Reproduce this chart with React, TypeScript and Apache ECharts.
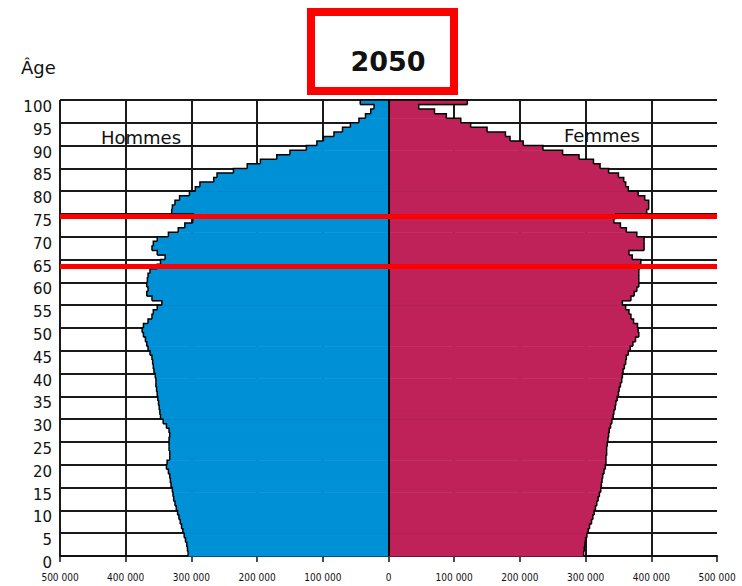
import React, { useEffect, useRef } from "react";
import * as echarts from "echarts";

// Age rows: row "a" spans [a-1, a] on the age axis; the top row (100) is 100+
const ages: number[] = Array.from({ length: 100 }, (_, i) => i + 1);

// Population in thousands, row 1 .. row 100
const hommesMilliers: number[] = [
  305, 306, 307, 309, 311, 313, 315, 317, 319, 321,
  323, 325, 327, 328, 329, 331, 332, 333, 335, 338,
  337, 333, 333, 334, 334, 334, 333, 334, 338, 343,
  347, 348, 349, 350, 351, 352, 353, 354, 354, 355,
  357, 358, 359, 360, 363, 366, 368, 370, 373, 375,
  373, 366, 360, 358, 352, 345, 360, 368, 366, 368,
  367, 366, 363, 352, 347, 340, 352, 360, 358, 352,
  335, 320, 310, 298, 297, 330, 329, 325, 318, 303,
  294, 287, 266, 261, 236, 215, 195, 170, 150, 125,
  109, 99, 83, 70, 58, 45, 35, 27, 22, 43,
];

const femmesMilliers: number[] = [
  297, 298, 299, 300, 302, 304, 306, 309, 311, 313,
  315, 317, 319, 321, 323, 324, 325, 326, 328, 330,
  331, 331, 332, 332, 333, 334, 335, 336, 338, 340,
  342, 343, 345, 346, 348, 350, 351, 353, 355, 356,
  357, 359, 361, 362, 365, 368, 372, 376, 381, 380,
  379, 373, 369, 366, 361, 356, 369, 374, 378, 381,
  381, 381, 381, 383, 384, 371, 366, 389, 389, 389,
  378, 362, 353, 343, 346, 393, 396, 396, 390, 380,
  365, 361, 358, 350, 335, 322, 312, 290, 265, 235,
  205, 185, 178, 150, 125, 110, 88, 70, 46, 120,
];

const xMin = -500000;
const xMax = 500000;
const xStep = 100000;
const ageStep = 5;
const redLineAges: number[] = [74.5, 63.5];
const title = "2050";
const labelHommes = "Hommes";
const labelFemmes = "Femmes";
const labelAge = "Âge";

const BLUE = "#0090D5";
const MAGENTA = "#BE2259";

function fmtPop(v: number): string {
  const a = Math.abs(v);
  if (a === 0) return "0";
  return `${Math.round(a / 1000)} 000`;
}

function makeRender(values: number[], color: string) {
  return (params: any, api: any) => {
    const i = params.dataIndex;
    const v = api.value(0);
    const age = api.value(1);
    const top = api.coord([0, age]);
    const bot = api.coord([v, age - 1]);
    const nextV = i + 1 < values.length ? values[i + 1] : 0;
    const nextPt = api.coord([nextV, age]);
    const x0 = Math.min(top[0], bot[0]);
    const w = Math.abs(bot[0] - top[0]);
    return {
      type: "group",
      children: [
        {
          type: "rect",
          z2: 1,
          shape: { x: x0, y: top[1], width: w, height: bot[1] - top[1] + 0.6 },
          style: { fill: color },
        },
        {
          type: "polyline",
          z2: 10,
          shape: {
            points: [
              [bot[0], bot[1]],
              [bot[0], top[1]],
              [nextPt[0], top[1]],
            ],
          },
          style: { stroke: "#000", lineWidth: 1.5, fill: "none" },
        },
      ],
    };
  };
}

export default function App() {
  const ref = useRef<HTMLDivElement>(null);

  useEffect(() => {
    document.body.style.margin = "0";
    if (!ref.current) return;
    const chart = echarts.init(ref.current, undefined, { renderer: "svg" });

    const hommesVals = hommesMilliers.map((v) => -v * 1000);
    const femmesVals = femmesMilliers.map((v) => v * 1000);

    const option: any = {
      animation: false,
      backgroundColor: "#ffffff",
      grid: { left: 60, right: 25, top: 100, bottom: 30, containLabel: false },
      xAxis: {
        type: "value",
        min: xMin,
        max: xMax,
        interval: xStep,
        axisLine: { show: true, lineStyle: { color: "#111", width: 2 } },
        axisTick: { show: true, length: 6, lineStyle: { color: "#111", width: 1.5 } },
        axisLabel: {
          formatter: fmtPop,
          fontSize: 10,
          color: "#111",
          margin: 16,
          fontFamily: "'Liberation Sans Narrow', 'DejaVu Sans Condensed', 'Liberation Sans', sans-serif",
        },
        splitLine: {
          show: true,
          showMaxLine: false,
          lineStyle: { color: "#1a1a1a", width: 2 },
        },
      },
      yAxis: {
        type: "value",
        min: 0,
        max: 100,
        interval: ageStep,
        axisLine: { show: true, lineStyle: { color: "#111", width: 2 } },
        axisTick: { show: false },
        axisLabel: {
          fontSize: 15,
          lineHeight: 14,
          color: "#111",
          margin: 8,
          verticalAlign: "top",
          fontFamily: "'DejaVu Sans', sans-serif",
        },
        splitLine: { show: true, lineStyle: { color: "#1a1a1a", width: 2 } },
      },
      series: [
        {
          name: labelHommes,
          type: "custom",
          renderItem: makeRender(hommesVals, BLUE),
          encode: { x: 0, y: 1 },
          data: ages.map((a, i) => [hommesVals[i], a]),
          z: 2,
        },
        {
          name: labelFemmes,
          type: "custom",
          renderItem: makeRender(femmesVals, MAGENTA),
          encode: { x: 0, y: 1 },
          data: ages.map((a, i) => [femmesVals[i], a]),
          z: 2,
          markLine: {
            silent: true,
            symbol: ["none", "none"],
            label: { show: false },
            lineStyle: { color: "#ff0000", width: 5, type: "solid" },
            data: [
              { xAxis: 0, lineStyle: { color: "#000", width: 2, type: "solid" } },
              ...redLineAges.map((a) => ({ yAxis: a })),
            ],
          },
        },
      ],
      graphic: [
        {
          type: "rect",
          shape: { x: 311, y: 12, width: 143, height: 79 },
          style: { fill: "#fff", stroke: "#ff0000", lineWidth: 8 },
        },
        {
          type: "text",
          x: 388,
          y: 61,
          style: {
            text: title,
            fontSize: 27,
            fontWeight: "bold",
            fontFamily: "'DejaVu Sans', sans-serif",
            fill: "#111",
            textAlign: "center",
            textVerticalAlign: "middle",
            align: "center",
            verticalAlign: "middle",
          },
        },
        {
          type: "text",
          x: 21,
          y: 67,
          style: {
            text: labelAge,
            fontSize: 18,
            fontFamily: "'DejaVu Sans', sans-serif",
            fill: "#111",
            textAlign: "left",
            textVerticalAlign: "middle",
            align: "left",
            verticalAlign: "middle",
          },
        },
        {
          type: "text",
          x: 101,
          y: 137,
          z: 10,
          style: {
            text: labelHommes,
            fontSize: 18,
            fontFamily: "'DejaVu Sans', sans-serif",
            fill: "#111",
            textAlign: "left",
            textVerticalAlign: "middle",
            align: "left",
            verticalAlign: "middle",
          },
        },
        {
          type: "text",
          x: 564,
          y: 135,
          z: 10,
          style: {
            text: labelFemmes,
            fontSize: 18,
            fontFamily: "'DejaVu Sans', sans-serif",
            fill: "#111",
            textAlign: "left",
            textVerticalAlign: "middle",
            align: "left",
            verticalAlign: "middle",
          },
        },
      ],
    };

    chart.setOption(option);
    return () => chart.dispose();
  }, []);

  return <div ref={ref} style={{ width: 742, height: 586 }} />;
}
